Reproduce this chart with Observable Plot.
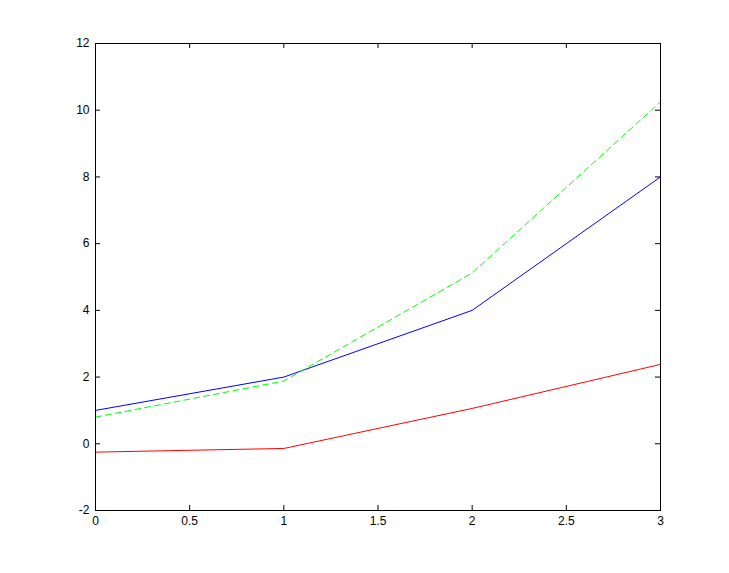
<!DOCTYPE html>
<html>
<head>
<meta charset="utf-8">
<script src="https://cdn.jsdelivr.net/npm/d3@7"></script>
<script src="https://cdn.jsdelivr.net/npm/@observablehq/plot@0.6"></script>
<style>
  html, body { margin: 0; padding: 0; background: #ffffff; }
  #chart svg { display: block; }
</style>
</head>
<body>
<div id="chart"></div>
<script>
const xs = [0, 1, 2, 3];
const blueVals = [1, 2, 4, 8];
const greenVals = [0.8, 1.88, 5.12, 10.25];
const redVals = [-0.25, -0.14, 1.06, 2.38];
const xTicks = [0, 0.5, 1, 1.5, 2, 2.5, 3];
const yTicks = [-2, 0, 2, 4, 6, 8, 10, 12];

const W = 729, H = 573;
const mL = 95, mR = 69, mT = 43, mB = 63;
const pw = W - mL - mR, ph = H - mT - mB;
const tick = 5;

const blue = xs.map((x, i) => ({x, y: blueVals[i]}));
const green = xs.map((x, i) => ({x, y: greenVals[i]}));
const red = xs.map((x, i) => ({x, y: redVals[i]}));

const chart = Plot.plot({
  width: W,
  height: H,
  marginLeft: mL,
  marginRight: mR,
  marginTop: mT,
  marginBottom: mB,
  style: {background: "#ffffff", fontFamily: "'Liberation Sans', Arial, sans-serif", fontSize: "12px", color: "#000"},
  x: {domain: [0, 3]},
  y: {domain: [-2, 12]},
  marks: [
    Plot.line(blue, {x: "x", y: "y", stroke: "#0000ff", strokeWidth: 1}),
    Plot.line(green, {x: "x", y: "y", stroke: "#00ff00", strokeWidth: 1, strokeDasharray: "6,4"}),
    Plot.line(red, {x: "x", y: "y", stroke: "#ff0000", strokeWidth: 1}),
    // inward ticks
    Plot.ruleY(yTicks, {y: d => d, insetRight: pw - tick, stroke: "#000"}),
    Plot.ruleY(yTicks, {y: d => d, insetLeft: pw - tick, stroke: "#000"}),
    Plot.ruleX(xTicks, {x: d => d, insetTop: ph - tick, stroke: "#000"}),
    Plot.ruleX(xTicks, {x: d => d, insetBottom: ph - tick, stroke: "#000"}),
    Plot.frame({stroke: "#000", strokeWidth: 1}),
    Plot.axisY(yTicks, {tickSize: 0, tickPadding: 6, tickFormat: d => String(d), fill: "#000", fontSize: 12, label: null}),
    Plot.axisX(xTicks, {tickSize: 0, tickPadding: 6, tickFormat: d => String(d), fill: "#000", fontSize: 12, label: null})
  ]
});
document.getElementById("chart").appendChild(chart);
</script>
</body>
</html>
